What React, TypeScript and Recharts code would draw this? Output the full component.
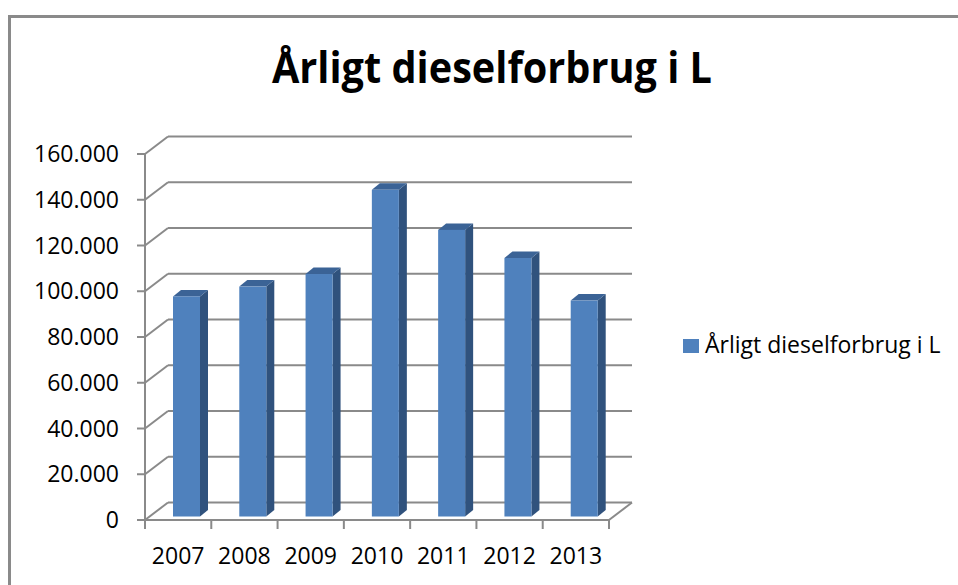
import React from 'react';
import { BarChart, Bar, XAxis, YAxis, CartesianGrid, Legend } from 'recharts';

// ---- data ----
const years: string[] = ['2007', '2008', '2009', '2010', '2011', '2012', '2013'];
const consumption: number[] = [96200, 100500, 106000, 142800, 125300, 113000, 94400];
const yTicks: number[] = [0, 20000, 40000, 60000, 80000, 100000, 120000, 140000, 160000];
const seriesName = 'Årligt dieselforbrug i L';
const chartTitle = 'Årligt dieselforbrug i L';

const data = years.map((year, i) => ({ year, value: consumption[i] }));

// ---- layout ----
const W = 958;
const H = 585;
const PLOT_LEFT = 145;
const PLOT_RIGHT = 609;
const PLOT_TOP = 154;
const PLOT_BOTTOM = 520;
const DEPTH_X = 23;
const DEPTH_Y = 17.5;
const BAR_DX = 8;
const BAR_DY = 3.5;
const SIDE_X = 8;
const SIDE_Y = 6.5;
const GRID = '#8a8a8a';
const FONT = '"Open Sans", sans-serif';
const FRONT = '#4F81BD';
const SIDE = '#30527D';
const TOP = '#3B6396';

const fmt = (v: number) => String(v).replace(/\B(?=(\d{3})+(?!\d))/g, '.');

const renderHLine = (props: any) => {
  const { x1, x2, y1, key } = props;
  const isFloor = Math.abs(y1 - PLOT_BOTTOM) < 1;
  return (
    <g key={key}>
      <line x1={x1} y1={y1} x2={x1 + DEPTH_X} y2={y1 - DEPTH_Y} stroke={GRID} strokeWidth={2} />
      <line x1={x1 + DEPTH_X} y1={y1 - DEPTH_Y} x2={x2 + DEPTH_X} y2={y1 - DEPTH_Y} stroke={GRID} strokeWidth={2} />
      {isFloor && <line x1={x2} y1={y1} x2={x2 + DEPTH_X} y2={y1 - DEPTH_Y} stroke={GRID} strokeWidth={2} />}
    </g>
  );
};

const Bar3D = (props: any) => {
  const { x, y, width, height } = props;
  if (height == null || width == null) return null;
  const fx = x + BAR_DX;
  const fy = y - BAR_DY;
  const side = `${fx + width},${fy} ${fx + width + SIDE_X},${fy - SIDE_Y} ${fx + width + SIDE_X},${fy + height - SIDE_Y} ${fx + width},${fy + height}`;
  const top = `${fx},${fy} ${fx + SIDE_X},${fy - SIDE_Y} ${fx + width + SIDE_X},${fy - SIDE_Y} ${fx + width},${fy}`;
  return (
    <g>
      <polygon points={side} fill={SIDE} />
      <polygon points={top} fill={TOP} />
      <rect x={fx} y={fy} width={width} height={height} fill={FRONT} />
    </g>
  );
};

const XTick = (props: any) => {
  const { x, payload, index } = props;
  const bw = (PLOT_RIGHT - PLOT_LEFT) / years.length;
  return (
    <g>
      <line x1={x - bw / 2} y1={PLOT_BOTTOM} x2={x - bw / 2} y2={PLOT_BOTTOM + 9} stroke={GRID} strokeWidth={2} />
      {index === years.length - 1 && (
        <line x1={x + bw / 2} y1={PLOT_BOTTOM} x2={x + bw / 2} y2={PLOT_BOTTOM + 9} stroke={GRID} strokeWidth={2} />
      )}
      <text x={x} y={PLOT_BOTTOM + 27} dy="0.72em" textAnchor="middle" fontFamily={FONT} fontSize={23} fill="#000">
        {payload.value}
      </text>
    </g>
  );
};

const LegendContent = (props: any) => {
  const items = props.payload || [];
  return (
    <svg width={268} height={34 * items.length} style={{ display: 'block', overflow: 'visible' }}>
      {items.map((it: any, i: number) => (
        <g key={i} transform={`translate(0, ${i * 34})`}>
          <rect x={0} y={6} width={16} height={14} fill={it.color || FRONT} />
          <text x={22} y={20} fontFamily={FONT} fontSize={23} fill="#000">
            {it.value}
          </text>
        </g>
      ))}
    </svg>
  );
};

export default function App() {
  return (
    <div style={{ position: 'absolute', left: 0, top: 0, width: W, height: H, background: '#fff', overflow: 'hidden' }}>
      <svg width={W} height={H} style={{ position: 'absolute', left: 0, top: 0 }}>
        <line x1={8} y1={16.5} x2={W} y2={16.5} stroke={GRID} strokeWidth={3} />
        <line x1={9.5} y1={15} x2={9.5} y2={H} stroke={GRID} strokeWidth={3} />
        <text
          x={272}
          y={83}
          fontFamily={FONT}
          fontWeight={700}
          fontSize={43}
          textLength={440}
          lengthAdjust="spacingAndGlyphs"
          fill="#000"
        >
          {chartTitle}
        </text>
      </svg>
      <div style={{ position: 'absolute', left: 0, top: 0 }}>
        <BarChart
          width={W}
          height={H}
          data={data}
          margin={{ top: PLOT_TOP, right: W - PLOT_RIGHT, bottom: 0, left: 0 }}
        >
          <CartesianGrid horizontal={renderHLine} vertical={false} />
          <XAxis
            dataKey="year"
            height={H - PLOT_BOTTOM}
            interval={0}
            tickLine={false}
            axisLine={{ stroke: GRID, strokeWidth: 2 }}
            tick={<XTick />}
          />
          <YAxis
            type="number"
            domain={[0, 160000]}
            ticks={yTicks}
            width={PLOT_LEFT}
            tickSize={8}
            tickMargin={18}
            tickFormatter={fmt}
            tickLine={{ stroke: GRID, strokeWidth: 2 }}
            axisLine={{ stroke: GRID, strokeWidth: 2 }}
            tick={{ fontFamily: FONT, fontSize: 23, fill: '#000' }}
            interval={0}
          />
          <Legend
            layout="vertical"
            align="center"
            verticalAlign="middle"
            wrapperStyle={{ position: 'absolute', left: 683, top: 333, width: 268, height: 34 }}
            content={<LegendContent />}
          />
          <Bar dataKey="value" name={seriesName} fill={FRONT} barSize={27} shape={<Bar3D />} isAnimationActive={false} />
        </BarChart>
      </div>
    </div>
  );
}
